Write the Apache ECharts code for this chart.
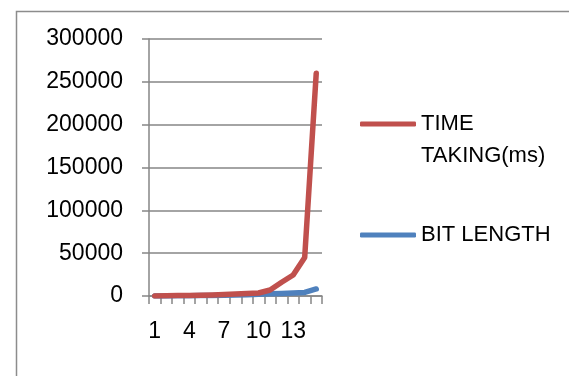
<!DOCTYPE html>
<html>
<head>
<meta charset="utf-8">
<script src="https://cdn.jsdelivr.net/npm/echarts@6/dist/echarts.min.js"></script>
<style>
html,body{margin:0;padding:0;background:#fff;}
#chart{width:569px;height:376px;}
</style>
</head>
<body>
<div id="chart"></div>
<script>
const categories = ['1','2','3','4','5','6','7','8','9','10','11','12','13','14','15'];
const timeTaking = [100, 300, 500, 700, 1000, 1300, 1700, 2200, 2800, 3500, 7000, 16000, 24500, 45000, 260000];
const bitLength = [50, 100, 200, 300, 500, 700, 900, 1200, 1500, 2000, 2500, 3000, 3500, 4096, 8192];
const yTicks = { min: 0, max: 300000, interval: 50000 };
const seriesNames = ['TIME TAKING(ms)', 'BIT LENGTH'];

const RED = '#C0504D', BLUE = '#4F81BD', GRID = '#868686';
const FONT = 'Liberation Sans';

const chart = echarts.init(document.getElementById('chart'));
const legendBase = {
  orient: 'vertical', left: 355, itemWidth: 56, itemHeight: 5, itemGap: 0,
  icon: 'roundRect', selectedMode: false,
  textStyle: { fontFamily: FONT, fontSize: 22, color: '#000', lineHeight: 32 }
};
chart.setOption({
  animation: false,
  backgroundColor: '#fff',
  graphic: [{
    type: 'rect', left: 14, top: 9, silent: true,
    shape: { width: 600, height: 420 },
    style: { fill: 'none', stroke: '#8c8c8c', lineWidth: 1.5 }
  }],
  grid: { left: 149, right: 247, top: 39, bottom: 80, containLabel: false },
  legend: [
    Object.assign({}, legendBase, {
      top: 71,
      data: [seriesNames[0]],
      formatter: function (n) { return '\n' + n.replace(' ', '\n'); }
    }),
    Object.assign({}, legendBase, {
      top: 214,
      data: [seriesNames[1]]
    })
  ],
  xAxis: {
    type: 'category', data: categories, boundaryGap: true,
    axisLine: { lineStyle: { color: GRID, width: 1.5 } },
    axisTick: { show: true, interval: 0, length: 8, lineStyle: { color: GRID, width: 1.5 } },
    axisLabel: { interval: 2, fontFamily: FONT, fontSize: 23, color: '#000', margin: 24 },
    splitLine: { show: false }
  },
  yAxis: {
    type: 'value', min: yTicks.min, max: yTicks.max, interval: yTicks.interval,
    axisLine: { show: true, lineStyle: { color: GRID, width: 1.5 } },
    axisTick: { show: true, length: 7, lineStyle: { color: GRID, width: 1.5 } },
    axisLabel: { fontFamily: FONT, fontSize: 23, color: '#000', margin: 26,
      formatter: function (v) { return String(v); } },
    splitLine: { show: true, lineStyle: { color: GRID, width: 1.5 } }
  },
  series: [
    {
      name: seriesNames[1], type: 'line', data: bitLength, symbol: 'none',
      color: BLUE, lineStyle: { width: 5.5, color: BLUE, cap: 'round', join: 'round' }, z: 2
    },
    {
      name: seriesNames[0], type: 'line', data: timeTaking, symbol: 'none',
      color: RED, lineStyle: { width: 5.5, color: RED, cap: 'round', join: 'round' }, z: 3
    }
  ]
});
</script>
</body>
</html>
